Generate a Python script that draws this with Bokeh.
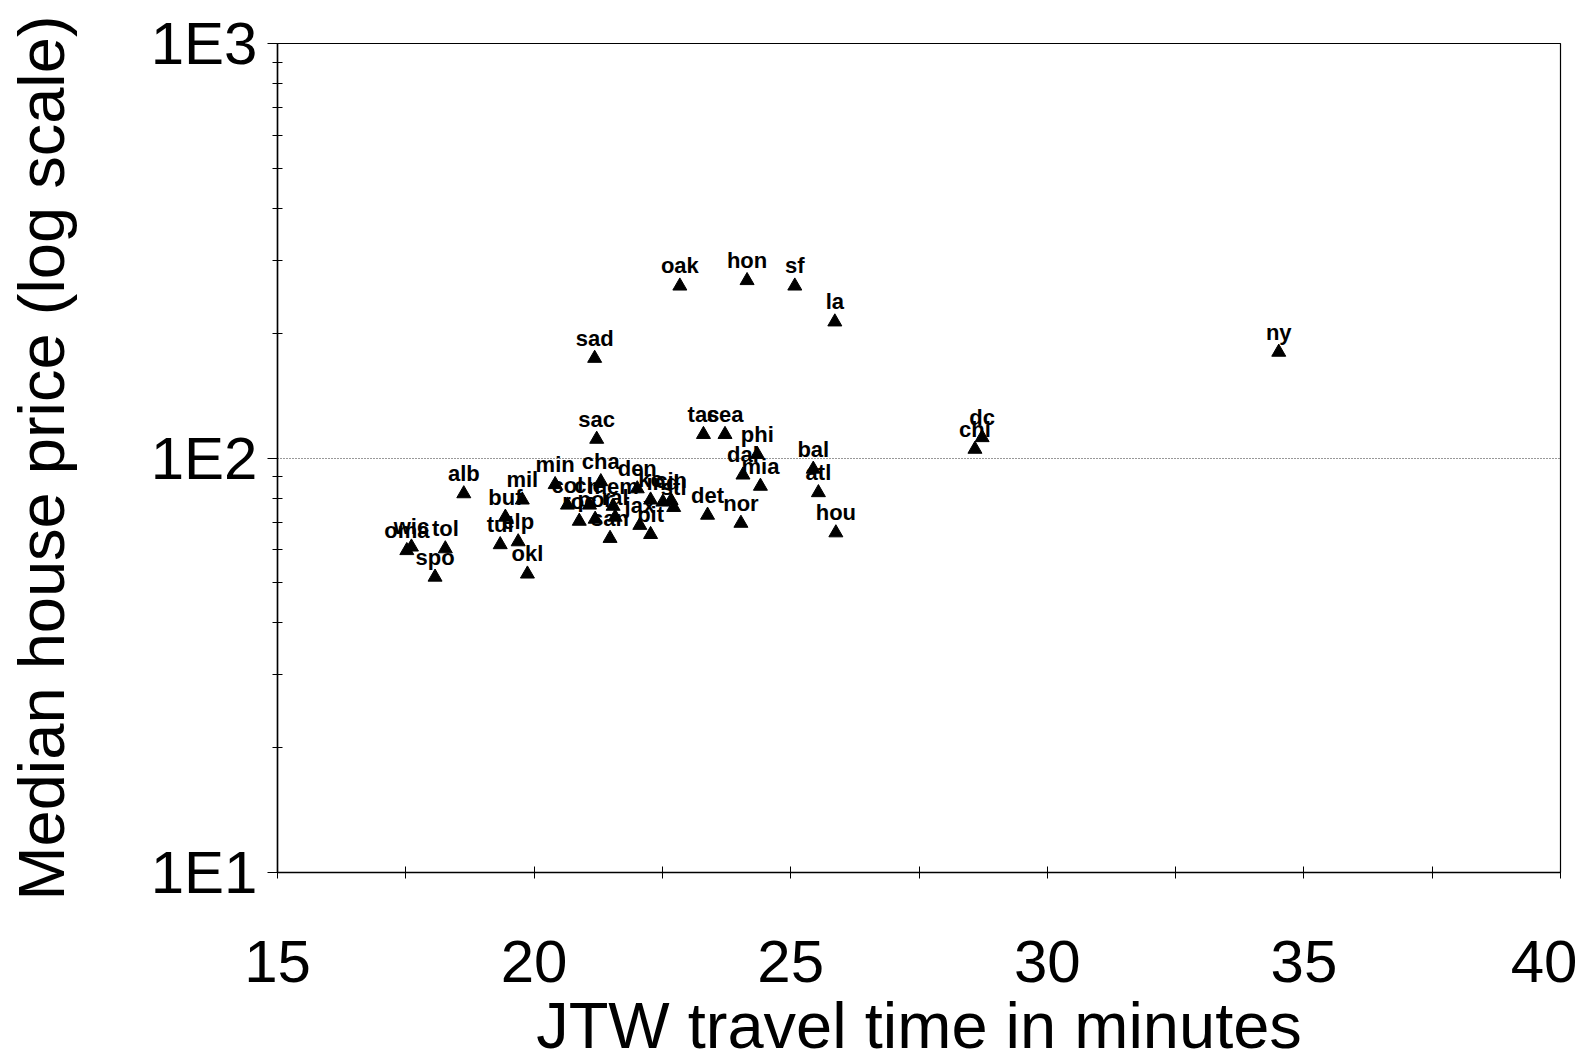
from bokeh.plotting import figure
from bokeh.models import ColumnDataSource, FixedTicker, Range1d
from bokeh.core.properties import value
from bokeh.embed import file_html
from bokeh.resources import INLINE

# ---- data ----
cities = ["ny", "dc", "chi", "oak", "hon", "sf", "la", "sad", "sac", "tac", "sea",
          "phi", "dal", "mia", "bal", "atl", "hou", "det", "nor", "alb", "mil", "buf",
          "tul", "elp", "okl", "wic", "oma", "tol", "spo",
          "min", "cha", "den", "col", "cle", "mem", "kc", "ind", "cin", "stl",
          "roc", "por", "ral", "jax", "san", "pit"]
travel_time = [34.51, 28.73, 28.59, 22.84, 24.15, 25.08, 25.86, 21.18, 21.22, 23.30, 23.72,
               24.35, 24.07, 24.41, 25.44, 25.54, 25.88, 23.38, 24.03, 18.63, 19.77, 19.44,
               19.34, 19.69, 19.87, 17.61, 17.52, 18.27, 18.07,
               20.41, 21.30, 22.01, 20.65, 21.08, 21.54, 22.27, 22.51, 22.67, 22.72,
               20.88, 21.19, 21.58, 22.06, 21.48, 22.27]
house_price = [180, 112, 105, 260, 268, 260, 213, 174, 111, 114, 114,
               102, 91, 85.5, 94, 82.5, 66.0, 72.8, 69.6, 82.0, 79.2, 72.0,
               61.8, 62.8, 52.5, 61.0, 59.8, 60.4, 51.6,
               86.3, 87.7, 84.3, 77.0, 77.0, 76.5, 79.2, 78.3, 79.0, 76.0,
               70.4, 71.2, 72.0, 68.8, 64.0, 65.4]

x_ticks = [15, 20, 25, 30, 35, 40]
x_minor = [17.5, 22.5, 27.5, 32.5, 37.5]
y_ticks = [10, 100, 1000]
y_tick_labels = ["1E1", "1E2", "1E3"]
y_minor = [20, 30, 40, 50, 60, 70, 80, 90, 200, 300, 400, 500, 600, 700, 800, 900]
x_title = "JTW travel time in minutes"
y_title = "Median house price (log scale)"

src = ColumnDataSource(dict(x=travel_time, y=house_price, name=cities))

p = figure(width=1577, height=1064, y_axis_type="log",
           x_range=Range1d(15, 40), y_range=Range1d(10, 1000),
           output_backend="svg", toolbar_location=None,
           min_border_left=277, min_border_right=17, min_border_top=43,
           min_border_bottom=192)
p.background_fill_color = "white"
p.border_fill_color = "white"
p.outline_line_color = "black"
p.outline_line_width = 1.2

p.scatter("x", "y", source=src, marker="triangle", size=14,
          fill_color="black", line_color="black")
p.text("x", "y", text="name", source=src, text_font=value("Liberation Sans"),
       text_font_style="bold", text_font_size="22px", text_color="black",
       text_align="center", text_baseline="alphabetic", y_offset=-20)

# grid
p.xgrid.visible = False
p.ygrid.ticker = FixedTicker(ticks=[100])
p.ygrid.grid_line_color = "#333333"
p.ygrid.grid_line_dash = "1 2"
p.ygrid.grid_line_width = 1.2

# x axis
xa = p.xaxis[0]
xa.ticker = FixedTicker(ticks=x_ticks, minor_ticks=x_minor)
xa.axis_label = x_title
xa.axis_label_text_font = "Liberation Sans"
xa.axis_label_text_font_style = "normal"
xa.axis_label_text_font_size = "65px"
xa.axis_label_text_color = "black"
xa.axis_label_standoff = 4
xa.major_label_text_font = "Liberation Sans"
xa.major_label_text_font_size = "60px"
xa.major_label_text_color = "black"
xa.major_label_standoff = 62
xa.major_tick_in = 6
xa.major_tick_out = 6
xa.minor_tick_in = 6
xa.minor_tick_out = 6
xa.axis_line_color = "black"
xa.axis_line_width = 1.5

# y axis
ya = p.yaxis[0]
ya.ticker = FixedTicker(ticks=y_ticks, minor_ticks=y_minor)
ya.major_label_overrides = {t: lab for t, lab in zip(y_ticks, y_tick_labels)}
ya.axis_label = y_title
ya.axis_label_text_font = "Liberation Sans"
ya.axis_label_text_font_style = "normal"
ya.axis_label_text_font_size = "65px"
ya.axis_label_text_color = "black"
ya.axis_label_standoff = 70
ya.major_label_text_font = "Liberation Sans"
ya.major_label_text_font_size = "60px"
ya.major_label_text_color = "black"
ya.major_label_standoff = 10
ya.major_tick_in = 0
ya.major_tick_out = 10
ya.minor_tick_in = 5
ya.minor_tick_out = 5
ya.axis_line_color = "black"
ya.axis_line_width = 1.5

open("out.html", "w").write(file_html(p, INLINE))
